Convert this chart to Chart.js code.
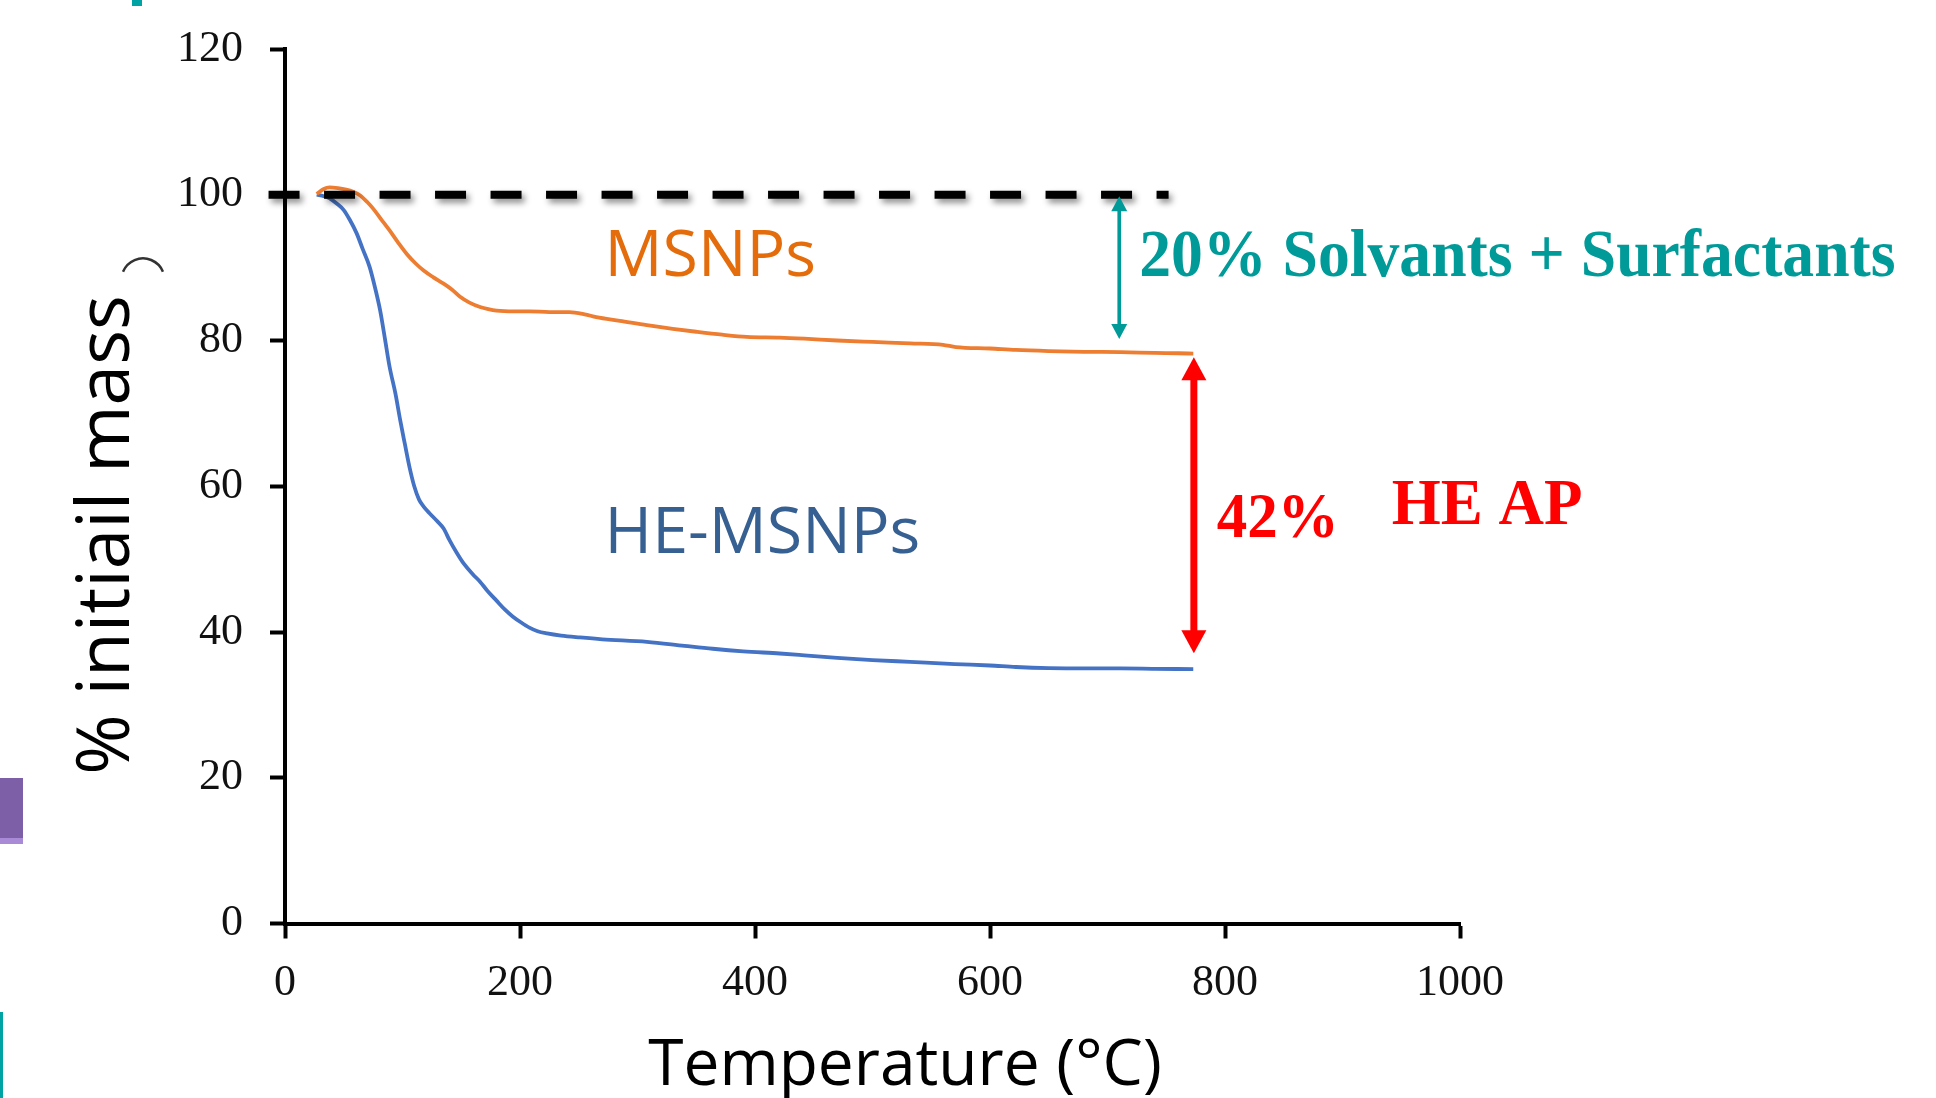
<!DOCTYPE html>
<html>
<head>
<meta charset="utf-8">
<script src="https://cdn.jsdelivr.net/npm/chart.js@4.4.1/dist/chart.umd.min.js"></script>
<style>
    html, body { margin: 0; padding: 0; background: #ffffff; }
    #wrap { width: 1936px; height: 1098px; }
</style>
</head>
<body>
<div id="wrap"><canvas id="chartATG" width="1936" height="1098"></canvas></div>
<script>
const tempMSNP = [27, 33, 38, 45, 52, 58, 64, 70, 75, 82, 89, 96, 104, 111, 118, 126, 135, 142, 149, 157,
    166, 173, 180, 195, 208, 225, 242, 255, 265, 285, 308, 330, 350, 372, 393, 421, 442, 470, 500, 532,
    560, 571, 600, 622, 650, 680, 711, 740, 760, 773];
const massaMSNP = [100.1, 100.8, 101.0, 100.9, 100.7, 100.4, 99.9, 99.0, 98.1, 96.6, 95.1, 93.5, 91.8, 90.6, 89.6, 88.7, 87.8, 87.0, 86.0, 85.2,
    84.6, 84.3, 84.1, 84.0, 84.0, 83.9, 83.9, 83.6, 83.2, 82.7, 82.1, 81.6, 81.2, 80.8, 80.5, 80.4, 80.25, 80.0, 79.8, 79.6,
    79.4, 79.1, 78.9, 78.7, 78.55, 78.45, 78.4, 78.3, 78.25, 78.2];

const tempHE = [27, 33, 38, 44, 50, 55, 61, 66, 72, 77, 81, 85, 89, 94, 98, 102, 106, 110, 114, 118,
    123, 129, 135, 140, 146, 152, 160, 166, 172, 180, 187, 194, 201, 208, 215, 223, 235, 251, 270, 308,
    340, 364, 390, 421, 442, 470, 500, 532, 570, 600, 622, 650, 680, 711, 740, 773];
const massaHE = [100, 99.8, 99.5, 98.8, 97.9, 96.6, 94.7, 92.6, 90.1, 87.0, 84.1, 80.3, 76.4, 72.7, 69.1, 65.8, 62.6, 60.0, 58.2, 57.2,
    56.3, 55.3, 54.2, 52.6, 50.9, 49.4, 47.9, 46.9, 45.7, 44.3, 43.1, 42.1, 41.3, 40.6, 40.1, 39.8, 39.5, 39.25, 39.0, 38.65,
    38.1, 37.7, 37.35, 37.05, 36.8, 36.45, 36.15, 35.9, 35.6, 35.4, 35.2, 35.05, 35.0, 35.0, 34.95, 34.9];

// linha tracejada de 100%
const tempReferencia = [-14, 752];
const massaReferencia = [100, 100];

const ticksTemperatura = [0, 200, 400, 600, 800, 1000];
const ticksMassa = [0, 20, 40, 60, 80, 100, 120];

const nomesSeries = ['MSNPs', 'HE-MSNPs'];
const tituloX = 'Temperature (°C)';
const tituloY = '% initiail mass';

// setas (temperatura, massa topo, massa base) e textos
const setaSolventes = [710, 99.8, 80.2];
const setaHE = [773.5, 77.7, 37.1];
const textoSolventes = '20% Solvants + Surfactants';
const textoPerda = '42%';
const textoHE = 'HE AP';

function pontos(xs, ys) {
    var lista = [];
    for (var i = 0; i < xs.length; i++) {
        lista.push({ x: xs[i], y: ys[i] });
    }
    return lista;
}

function setaDupla(ctx, x, yTopo, yBase, cor, haste, largura, comprimento) {
    ctx.save();
    ctx.fillStyle = cor;
    ctx.strokeStyle = cor;
    ctx.lineWidth = haste;
    ctx.beginPath();
    ctx.moveTo(x, yTopo + comprimento - 1);
    ctx.lineTo(x, yBase - comprimento + 1);
    ctx.stroke();
    ctx.beginPath();
    ctx.moveTo(x, yTopo);
    ctx.lineTo(x - largura / 2, yTopo + comprimento);
    ctx.lineTo(x + largura / 2, yTopo + comprimento);
    ctx.closePath();
    ctx.fill();
    ctx.beginPath();
    ctx.moveTo(x, yBase);
    ctx.lineTo(x - largura / 2, yBase - comprimento);
    ctx.lineTo(x + largura / 2, yBase - comprimento);
    ctx.closePath();
    ctx.fill();
    ctx.restore();
}

// texto um pouco esticado na vertical, como no slide original
function textoAlto(ctx, texto, x, y, esticar) {
    ctx.save();
    ctx.translate(x, y);
    ctx.scale(1, esticar);
    ctx.fillText(texto, 0, 0);
    ctx.restore();
}

const anotacoes = {
    id: 'anotacoes',
    beforeDraw(chart) {
        const ctx = chart.ctx;
        ctx.save();
        // restos do slide
        ctx.fillStyle = '#7d5fa8';
        ctx.fillRect(0, 778, 23, 66);
        ctx.fillStyle = '#a98ad6';
        ctx.fillRect(0, 838, 23, 6);
        ctx.fillStyle = '#00a3a3';
        ctx.fillRect(132, 0, 10, 6);
        ctx.fillRect(0, 1012, 3, 86);
        ctx.strokeStyle = '#333';
        ctx.lineWidth = 2.5;
        ctx.beginPath();
        ctx.arc(143, 280, 21.6, 3.53, 5.89);
        ctx.stroke();
        ctx.restore();
    },
    beforeDatasetDraw(chart, args) {
        if (args.index === 0) {
            const ctx = chart.ctx;
            ctx.save();
            ctx.shadowColor = 'rgba(0,0,0,0.45)';
            ctx.shadowBlur = 6;
            ctx.shadowOffsetX = 3;
            ctx.shadowOffsetY = 4;
        }
    },
    afterDatasetDraw(chart, args) {
        if (args.index === 0) {
            chart.ctx.restore();
        }
    },
    afterDraw(chart) {
        const { ctx, scales: { x, y } } = chart;

        setaDupla(ctx, x.getPixelForValue(setaSolventes[0]), y.getPixelForValue(setaSolventes[1]),
            y.getPixelForValue(setaSolventes[2]), '#009a98', 3.7, 16, 15);
        setaDupla(ctx, x.getPixelForValue(setaHE[0]), y.getPixelForValue(setaHE[1]),
            y.getPixelForValue(setaHE[2]), '#ff0000', 7, 25, 23);

        ctx.save();
        ctx.textBaseline = 'alphabetic';
        ctx.textAlign = 'left';

        ctx.font = '64.5px "Open Sans"';
        ctx.fillStyle = '#e46c0a';
        ctx.fillText(nomesSeries[0], x.getPixelForValue(272), y.getPixelForValue(88.8));
        ctx.fillStyle = '#376092';
        ctx.fillText(nomesSeries[1], x.getPixelForValue(272), y.getPixelForValue(50.8));

        ctx.font = 'bold 63.7px "Liberation Serif"';
        ctx.fillStyle = '#009a98';
        textoAlto(ctx, textoSolventes, x.getPixelForValue(727), y.getPixelForValue(88.8), 1.05);
        ctx.fillStyle = '#ff0000';
        ctx.font = 'bold 61px "Liberation Serif"';
        textoAlto(ctx, textoPerda, x.getPixelForValue(793), y.getPixelForValue(53.1), 1.05);
        ctx.font = 'bold 63px "Liberation Serif"';
        textoAlto(ctx, textoHE, x.getPixelForValue(942), y.getPixelForValue(54.8), 1.03);

        // titulos dos eixos
        ctx.fillStyle = '#000';
        ctx.font = '64px "Open Sans"';
        ctx.textAlign = 'center';
        ctx.fillText(tituloX, 905, 1085);

        ctx.translate(129, 535);
        ctx.rotate(-Math.PI / 2);
        ctx.font = '73px "Open Sans"';
        ctx.fillText(tituloY, 0, 0);
        ctx.restore();
    }
};

const fonteTicks = { family: 'Liberation Serif', size: 44 };

const grafico = new Chart(document.getElementById('chartATG'), {
    type: 'line',
    data: {
        datasets: [
            {
                label: '100%',
                data: pontos(tempReferencia, massaReferencia),
                borderColor: '#000',
                borderWidth: 8,
                borderDash: [31, 24.5],
                borderCapStyle: 'butt',
                pointRadius: 0,
                clip: false
            },
            {
                label: nomesSeries[0],
                data: pontos(tempMSNP, massaMSNP),
                borderColor: '#ed7d31',
                borderWidth: 3.8,
                pointRadius: 0,
                cubicInterpolationMode: 'monotone'
            },
            {
                label: nomesSeries[1],
                data: pontos(tempHE, massaHE),
                borderColor: '#4472c4',
                borderWidth: 3.8,
                pointRadius: 0,
                cubicInterpolationMode: 'monotone'
            }
        ]
    },
    options: {
        responsive: false,
        animation: false,
        layout: { padding: { left: 0, top: 49, right: 476, bottom: 0 } },
        plugins: {
            legend: { display: false },
            tooltip: { enabled: false }
        },
        scales: {
            x: {
                type: 'linear',
                min: 0,
                max: 1000,
                afterBuildTicks: (s) => { s.ticks = ticksTemperatura.map(v => ({ value: v })); },
                afterFit: (s) => { s.height = 174.5; },
                ticks: { font: fonteTicks, color: '#111', padding: 19, callback: (v) => String(v) },
                grid: { drawOnChartArea: false, drawTicks: true, tickLength: 15, tickWidth: 4, tickColor: '#000' },
                border: { display: true, width: 4, color: '#000' }
            },
            y: {
                min: 0,
                max: 120,
                afterBuildTicks: (s) => { s.ticks = ticksMassa.map(v => ({ value: v })); },
                afterFit: (s) => { s.width = 285; s.paddingTop = 0; s.paddingBottom = 0; },
                ticks: { font: fonteTicks, color: '#111', padding: 27, callback: (v) => String(v) },
                grid: { drawOnChartArea: false, drawTicks: true, tickLength: 15, tickWidth: 4, tickColor: '#000' },
                border: { display: true, width: 4, color: '#000' }
            }
        }
    },
    plugins: [anotacoes]
});
</script>
</body>
</html>
